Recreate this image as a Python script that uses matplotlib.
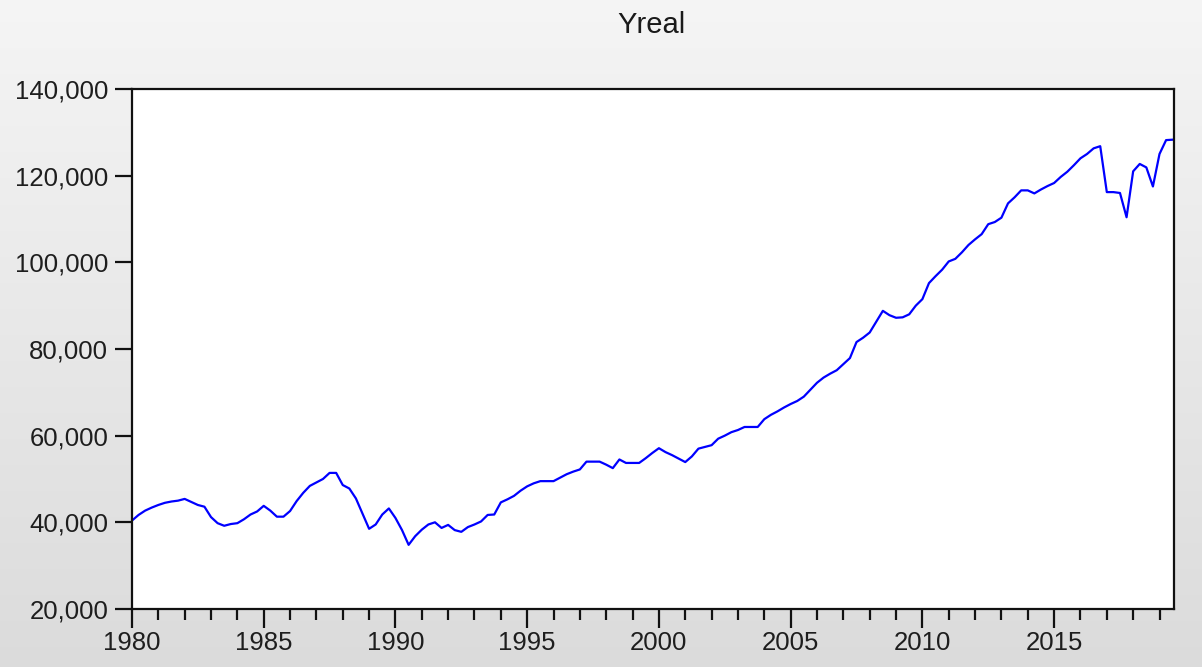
import numpy as np
import matplotlib
matplotlib.use("Agg")
import matplotlib.pyplot as plt
from matplotlib.ticker import FuncFormatter, MultipleLocator

# Quarterly data 1980Q1 - 2019Q3
start_year = 1980
yreal = [
    40400, 41700, 42700, 43400,   # 1980
    44000, 44500, 44800, 45000,   # 1981
    45400, 44700, 44000, 43600,   # 1982
    41200, 39800, 39200, 39600,   # 1983
    39800, 40700, 41800, 42500,   # 1984
    43800, 42700, 41300, 41300,   # 1985
    42600, 44900, 46800, 48400,   # 1986
    49200, 50000, 51400, 51400,   # 1987
    48600, 47800, 45500, 42000,   # 1988
    38500, 39500, 41800, 43200,   # 1989
    41000, 38200, 34800, 36800,   # 1990
    38300, 39500, 40000, 38700,   # 1991
    39400, 38200, 37800, 38900,   # 1992
    39500, 40200, 41700, 41800,   # 1993
    44600, 45300, 46100, 47300,   # 1994
    48300, 49000, 49500, 49500,   # 1995
    49500, 50300, 51100, 51700,   # 1996
    52200, 54000, 54000, 54000,   # 1997
    53300, 52500, 54500, 53700,   # 1998
    53700, 53700, 54800, 56000,   # 1999
    57100, 56200, 55500, 54700,   # 2000
    53900, 55200, 57000, 57400,   # 2001
    57800, 59300, 60000, 60800,   # 2002
    61300, 62000, 62000, 62000,   # 2003
    63800, 64800, 65600, 66500,   # 2004
    67300, 68000, 69000, 70600,   # 2005
    72200, 73400, 74300, 75100,   # 2006
    76500, 77900, 81600, 82600,   # 2007
    83800, 86300, 88800, 87800,   # 2008
    87200, 87300, 88000, 90000,   # 2009
    91500, 95200, 96800, 98300,   # 2010
    100200, 100800, 102300, 104000,  # 2011
    105300, 106500, 108800, 109300,  # 2012
    110300, 113600, 115000, 116600,  # 2013
    116600, 115900, 116800, 117600,  # 2014
    118300, 119700, 120900, 122400,  # 2015
    124000, 125000, 126300, 126800,  # 2016
    116200, 116200, 116000, 110400,  # 2017
    121000, 122700, 121900, 117500,  # 2018
    125000, 128200, 128300,          # 2019
]
title = "Yreal"
x_major = [1980, 1985, 1990, 1995, 2000, 2005, 2010, 2015]
y_ticks = [20000, 40000, 60000, 80000, 100000, 120000, 140000]

t = start_year + np.arange(len(yreal)) / 4.0

plt.rcParams['font.family'] = ['Liberation Sans', 'DejaVu Sans']

fig = plt.figure(figsize=(12.02, 6.67), dpi=100)

# background gradient
bg = fig.add_axes([0, 0, 1, 1], zorder=-10)
grad = np.linspace(0.96, 0.86, 256).reshape(-1, 1)
bg.imshow(np.dstack([grad, grad, grad]), aspect='auto', extent=[0, 1, 0, 1])
bg.axis('off')

ax = fig.add_axes([0.1098, 0.087, 0.8669, 0.7796])
ax.set_facecolor('white')
ax.plot(t, yreal, color='#0000ff', linewidth=1.6)

ax.set_xlim(1980, 2019.55)
ax.set_ylim(20000, 140000)
ax.set_xticks(x_major)
ax.xaxis.set_minor_locator(MultipleLocator(1))
ax.set_yticks(y_ticks)
ax.yaxis.set_major_formatter(FuncFormatter(lambda v, p: f"{int(v):,}"))

for s in ax.spines.values():
    s.set_linewidth(1.6)
    s.set_color('#111111')

ax.tick_params(axis='y', which='major', direction='out', length=12, width=1.6,
               labelsize=18.5, pad=5, colors='#111111', labelcolor='#1e1e1e')
ax.tick_params(axis='x', which='major', direction='out', length=14, width=1.6,
               labelsize=18.5, pad=2, colors='#111111', labelcolor='#1e1e1e')
ax.tick_params(axis='x', which='minor', direction='out', length=8, width=1.6,
               colors='#111111')

fig.text(0.542, 0.962, title, ha='center', va='center', fontsize=21, color='#1a1a1a')

fig.savefig('out.png', dpi=100)
